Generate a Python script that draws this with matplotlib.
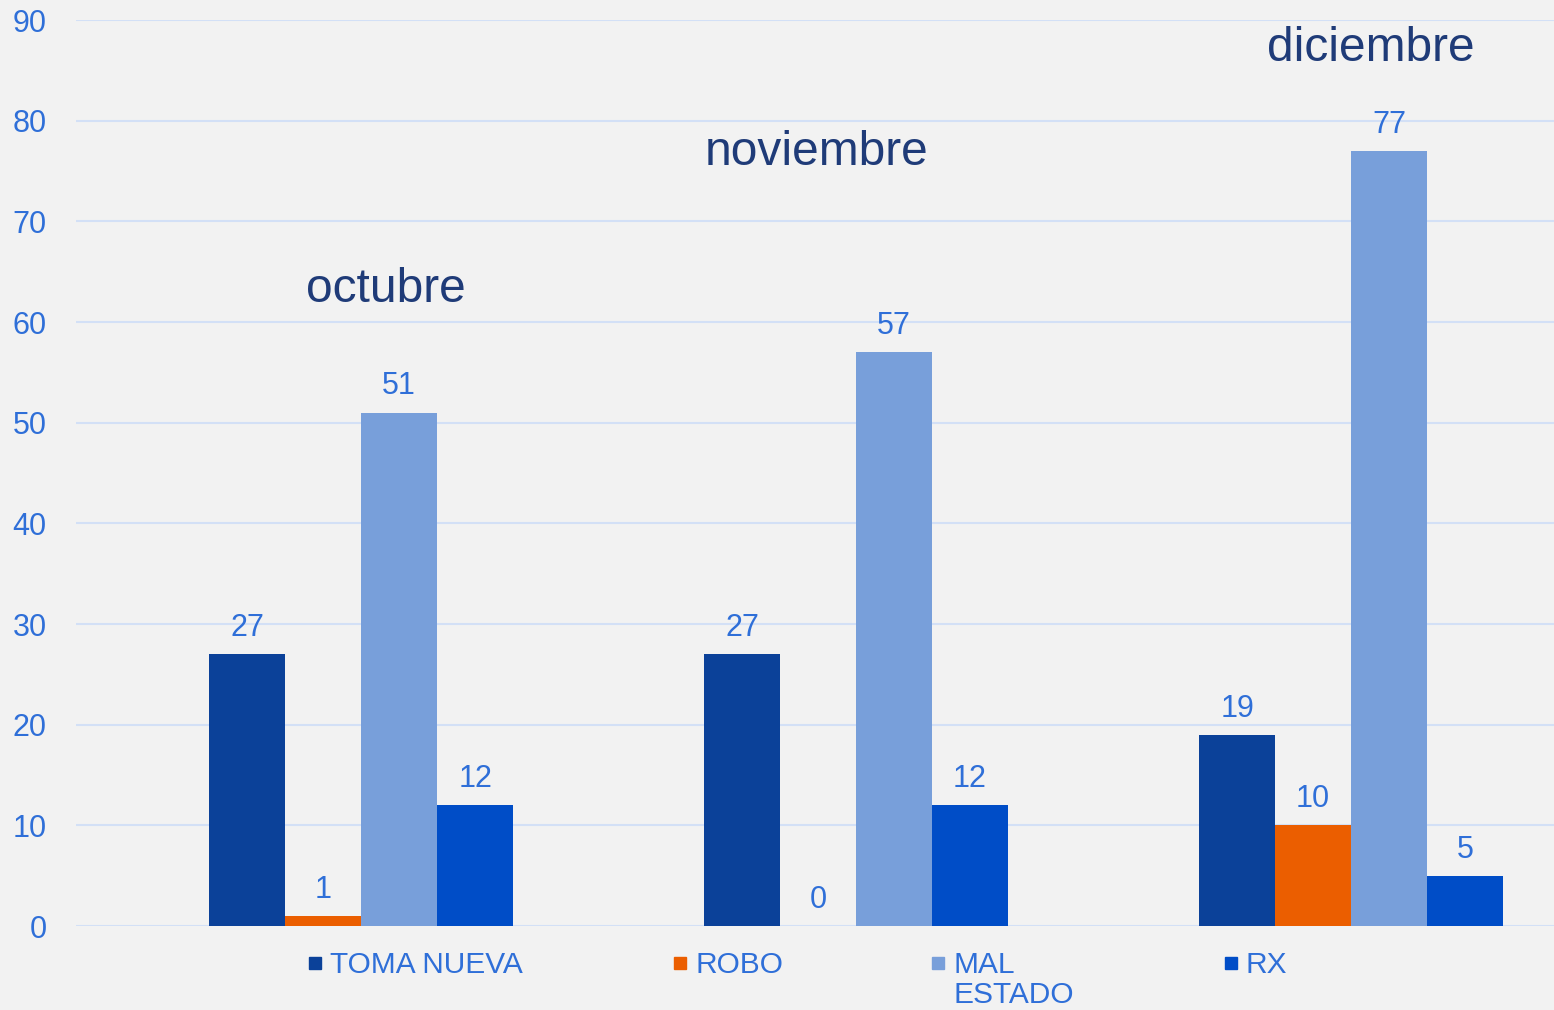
import numpy as np
import matplotlib
matplotlib.use("Agg")
import matplotlib.pyplot as plt
from matplotlib.patches import Rectangle

months = ["octubre", "noviembre", "diciembre"]
series = ["TOMA NUEVA", "ROBO", "MAL\nESTADO", "RX"]
toma_nueva = [27, 27, 19]
robo = [1, 0, 10]
mal_estado = [51, 57, 77]
rx = [12, 12, 5]
values = [toma_nueva, robo, mal_estado, rx]
colors = ["#0B4199", "#EB5E00", "#789FDA", "#004DC7"]

# month title positions (data coords)
title_pos = [(0.05, 63.2), (0.92, 76.8), (2.04, 87.2)]
# legend item left edges (figure px)
legend_x = [309, 674, 932, 1225]

text_blue = "#2F6FD8"
navy = "#1F3B78"
bg = "#F2F2F2"
grid_c = "#D3E0F6"

plt.rcParams['font.family'] = ['Liberation Sans', 'DejaVu Sans']

W, H = 1554, 1010
fig = plt.figure(figsize=(W / 100, H / 100), dpi=100, facecolor=bg)
ax = fig.add_axes([76 / W, 84 / H, 1 - 76 / W, 906 / H])
ax.set_facecolor(bg)

x = np.arange(len(months))
w = 0.1535
for i, (name, vals, c) in enumerate(zip(series, values, colors)):
    pos = x + (i - 1.5) * w
    bars = ax.bar(pos, vals, width=w, color=c, zorder=3)
    for b, v in zip(bars, vals):
        ax.annotate(str(v), (b.get_x() + b.get_width() / 2, v),
                    xytext=(0, 8), textcoords="offset points",
                    ha="center", va="bottom", fontsize=22, color=text_blue)

for m, (tx, ty) in zip(months, title_pos):
    ax.text(tx, ty, m, ha="center", va="center", fontsize=34.5, color=navy)

ax.set_xlim(-0.576, 2.41)
ax.set_ylim(0, 90)
ax.set_yticks(range(0, 91, 10))
ax.set_xticks([])
ax.tick_params(axis="y", length=0, pad=21, labelsize=22, labelcolor=text_blue)
for s in ax.spines.values():
    s.set_visible(False)
ax.grid(axis="y", color=grid_c, lw=1.5, zorder=0)
ax.set_axisbelow(True)

# legend at the bottom, marker lined up with the first text line
for lx, name, c in zip(legend_x, series, colors):
    fig.add_artist(Rectangle((lx / W, (H - 969) / H), 12 / W, 12 / H,
                             transform=fig.transFigure, color=c))
    fig.text((lx + 21) / W, (H - 951) / H, name, ha="left", va="top",
             fontsize=21.5, color=text_blue, linespacing=1.08)

fig.savefig("out.png", dpi=100, facecolor=bg)
